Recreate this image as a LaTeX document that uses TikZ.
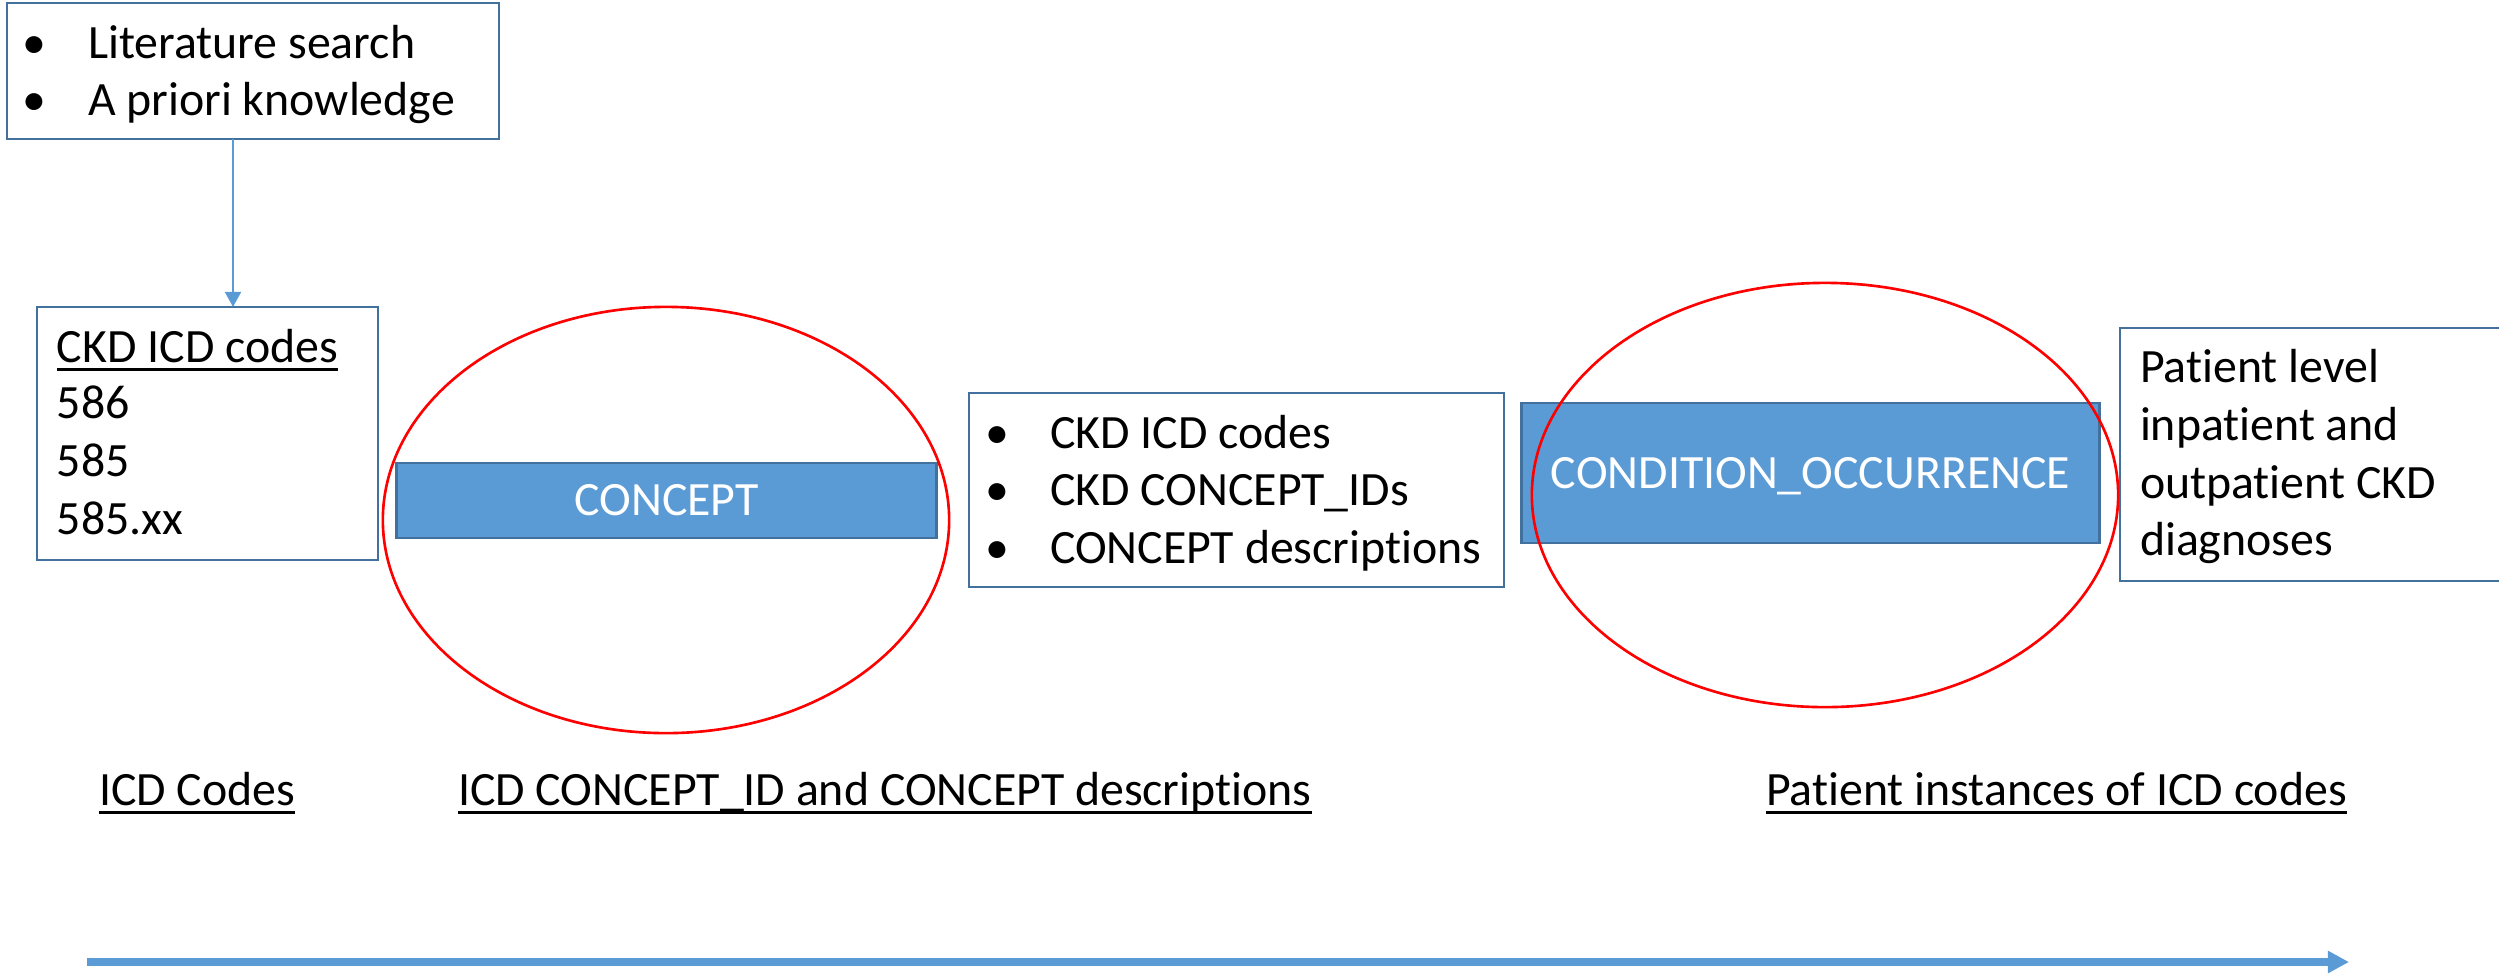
\documentclass[tikz,border=0pt]{standalone}
\usepackage{fontspec}
\setmainfont{Carlito}[Ligatures={NoCommon}]
\usetikzlibrary{arrows.meta,shapes.geometric}
\definecolor{boxblue}{HTML}{41719C}
\definecolor{fillblue}{HTML}{5B9BD5}
\definecolor{ringred}{HTML}{FF0000}
\tikzset{
  txt/.style={inner sep=0pt, outer sep=0pt, font=\fontsize{13.6}{16.4}\selectfont, anchor=base west},
  bul/.style={inner sep=0pt, outer sep=0pt, font=\fontsize{13.6}{16.4}\selectfont, anchor=base},
  outbox/.style={draw=boxblue, line width=0.6pt, rectangle, inner sep=0pt, outer sep=0pt},
  tablebox/.style={draw=boxblue, fill=fillblue, line width=0.8pt, rectangle, text=white,
    font=\fontsize{13.6}{16.4}\selectfont, text height=8.8pt, text depth=0pt, inner sep=0pt, outer sep=0pt},
  ring/.style={draw=ringred, line width=0.75pt, ellipse, inner sep=0pt, outer sep=0pt},
  uline/.style={line width=0.9pt, black},
  thinarrow/.style={draw=fillblue, line width=0.5pt, -{Triangle[length=4.3pt,width=4.6pt]}},
  timeline/.style={draw=fillblue, line width=2.3pt, -{Triangle[length=6pt,width=6pt]}}
}
\begin{document}
\begin{tikzpicture}[x=0.01cm,y=-0.01cm]
\useasboundingbox (0,0) rectangle (2499,975);
\clip (0,0) rectangle (2499,975);

% outline boxes
\node[outbox, minimum width=4.92cm, minimum height=1.36cm] (box1) at (253,71) {};
\node[outbox, minimum width=3.41cm, minimum height=2.53cm] (box2) at (207.5,433.5) {};
\node[outbox, minimum width=5.35cm, minimum height=1.94cm] (box3) at (1236.5,490) {};
\node[outbox, minimum width=4.20cm, minimum height=2.53cm] (box4) at (2330,454.5) {};

% box 1 text
\node[bul] (b1d1) at (34,58) {•};
\node[txt] (b1t1) at (88,58) {Literature search};
\node[bul] (b1d2) at (34,115) {•};
\node[txt] (b1t2) at (88,115) {A priori knowledge};

% box 2 text
\node[txt] (b2h) at (57,362) {CKD ICD codes};
\draw[uline] ([yshift=-2.1pt]b2h.base west) -- ([yshift=-2.1pt]b2h.base east);
\node[txt] (b2l1) at (57,418) {586};
\node[txt] (b2l2) at (57,476) {585};
\node[txt] (b2l3) at (57,534) {585.xx};

% box 3 text
\node[bul] (b3d1) at (997,448) {•};
\node[txt] (b3t1) at (1050,448) {CKD ICD codes};
\node[bul] (b3d2) at (997,505) {•};
\node[txt] (b3t2) at (1050,505) {CKD CONCEPT\_IDs};
\node[bul] (b3d3) at (997,563) {•};
\node[txt] (b3t3) at (1050,563) {CONCEPT descriptions};

% box 4 text
\node[txt] (b4l1) at (2140,382) {Patient level};
\node[txt] (b4l2) at (2140,440) {inpatient and};
\node[txt] (b4l3) at (2140,498) {outpatient CKD};
\node[txt] (b4l4) at (2140,555) {diagnoses};

% table boxes
\node[tablebox, minimum width=5.39cm, minimum height=0.75cm] (concept) at (666.5,500.5) {CONCEPT};
\node[tablebox, minimum width=5.77cm, minimum height=1.40cm] (cond) at (1810.5,473) {CONDITION\_OCCURRENCE};

% red ellipses
\node[ring, minimum width=5.66cm, minimum height=4.26cm] (ring1) at (666,520) {};
\node[ring, minimum width=5.86cm, minimum height=4.24cm] (ring2) at (1825,495) {};

% connector box1 -> box2
\coordinate (ax) at (233,0);
\draw[thinarrow] (box1.south -| ax) -- (box2.north -| ax);

% bottom labels
\node[txt] (lab1) at (99,805) {ICD Codes};
\draw[uline] ([yshift=-2.1pt]lab1.base west) -- ([yshift=-2.1pt]lab1.base east);
\node[txt] (lab2) at (458,805) {ICD CONCEPT\_ID and CONCEPT descriptions};
\draw[uline] ([yshift=-2.1pt]lab2.base west) -- ([yshift=-2.1pt]lab2.base east);
\node[txt] (lab3) at (1766,805) {Patient instances of ICD codes};
\draw[uline] ([yshift=-2.1pt]lab3.base west) -- ([yshift=-2.1pt]lab3.base east);

% timeline arrow
\coordinate (tls) at (87,962);
\coordinate (tle) at (2349,962);
\draw[timeline] (tls) -- (tle);
\end{tikzpicture}
\end{document}
